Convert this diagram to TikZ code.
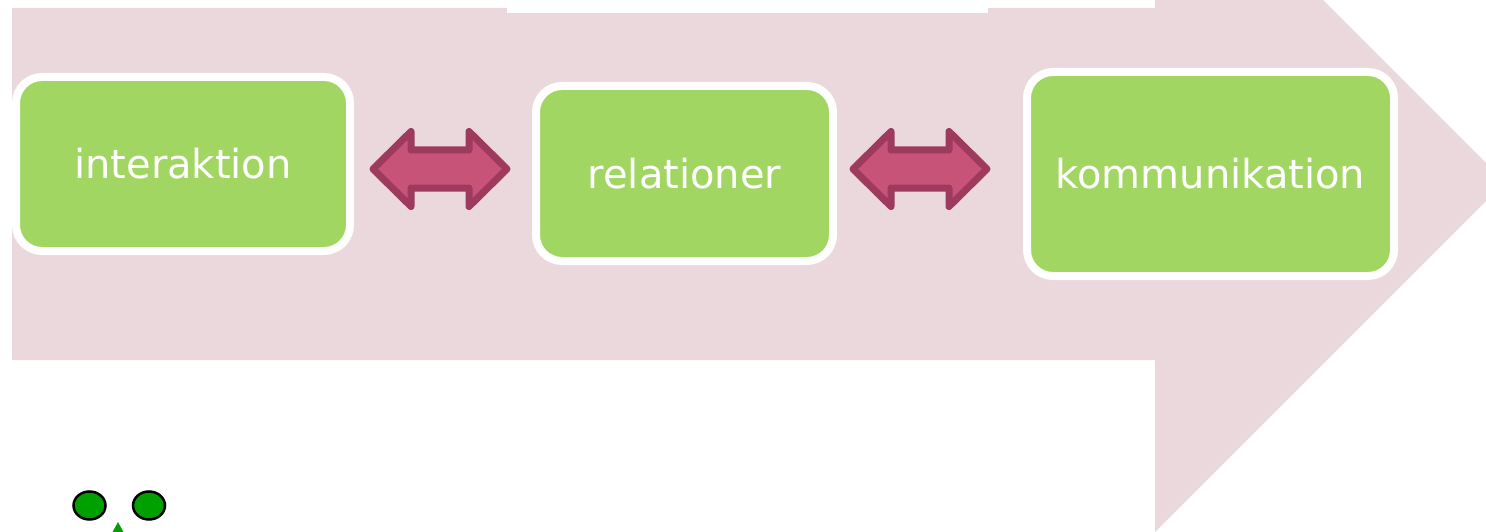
\documentclass[tikz,border=0pt]{standalone}
\usepackage{fontspec}
\setmainfont{DejaVu Sans}
\definecolor{bandpink}{HTML}{EAD8DD}
\definecolor{boxgreen}{HTML}{A2D662}
\definecolor{arrfill}{HTML}{C75379}
\definecolor{arrdraw}{HTML}{9E3A5E}
\definecolor{dotgreen}{HTML}{00A000}
\tikzset{>=stealth}

\begin{document}
\begin{tikzpicture}[x=1pt, y=-1pt,
    stage/.style={draw=white, line width=8pt, fill=boxgreen, rounded corners=26pt,
        text=white, font=\fontsize{40}{48}\selectfont, inner sep=0pt},
    twoway/.style={draw=arrdraw, fill=arrfill, line width=7pt, line join=round},
    eye/.style={draw=black, fill=dotgreen, line width=2.5pt}]
    \useasboundingbox (0,0) rectangle (1486,532);
    \clip (0,0) rectangle (1486,532);
    % big arrow in the back
    \fill[bandpink] (12,8) -- (1155,8) -- (1155,-168) -- (1505,182)
        -- (1155,532) -- (1155,360) -- (12,360) -- cycle;
    \fill[white] (507,0) rectangle (988,13);
    \node[stage, minimum width=334pt, minimum height=174pt] (I) at (183,164) {interaktion};
    \node[stage, minimum width=297pt, minimum height=175pt] (R) at (684.5,173.5) {relationer};
    \node[stage, minimum width=367pt, minimum height=204pt] (K) at (1210.5,174) {kommunikation};
    \coordinate (IR) at (440,169);
    \coordinate (RK) at (920,169);
    \foreach \p in {IR,RK}
        \draw[twoway, shift={(\p)}] (-67,0) -- (-29,-37.5) -- (-29,-19) -- (29,-19)
            -- (29,-37.5) -- (67,0) -- (29,37.5) -- (29,19) -- (-29,19) -- (-29,37.5) -- cycle;
    % face at the bottom
    \draw[eye] (89.5,505.5) ellipse [x radius=16, y radius=14];
    \draw[eye] (149,505.5) ellipse [x radius=16, y radius=14];
    \fill[dotgreen] (112,533) -- (118,522) -- (124,533) -- cycle;
\end{tikzpicture}
\end{document}
